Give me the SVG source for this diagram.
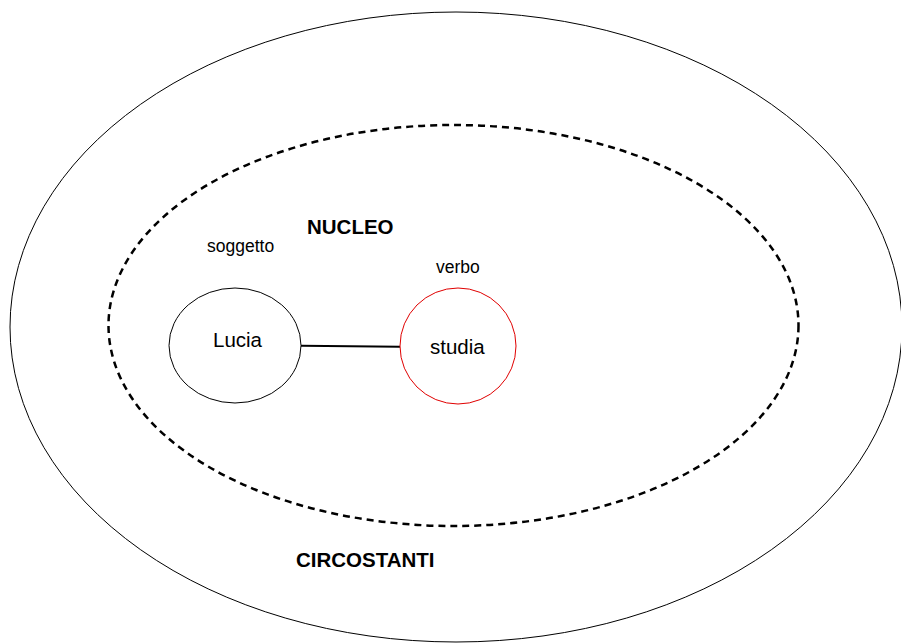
<svg xmlns="http://www.w3.org/2000/svg" width="901" height="643" viewBox="0 0 901 643">
<style>
text{font-family:"Liberation Sans",Arial,sans-serif;fill:#000}
.b{font-weight:bold;font-size:20.5px}
.s{font-size:17.5px}
.n{font-size:20.5px}
.thin{fill:none;stroke:#000;stroke-width:1}
</style>
<rect width="901" height="643" fill="#fff"/>
<g id="circostanti">
<ellipse class="thin" cx="456" cy="327" rx="446" ry="315"/>
<text class="b" x="296" y="567">CIRCOSTANTI</text>
</g>
<g id="nucleo">
<ellipse cx="453.5" cy="325.5" rx="345" ry="200.5" fill="none" stroke="#000" stroke-width="2.5" stroke-dasharray="7,5"/>
<text class="b" x="307" y="234">NUCLEO</text>
</g>
<g id="connectors">
<line x1="301" y1="345.7" x2="400" y2="346.7" stroke="#000" stroke-width="2"/>
</g>
<g id="lucia">
<ellipse class="thin" cx="235" cy="345.5" rx="66" ry="57.5"/>
<text class="s" x="207" y="252">soggetto</text>
<text class="n" x="213" y="347">Lucia</text>
</g>
<g id="studia">
<circle cx="458" cy="346" r="58" fill="none" stroke="#e00000" stroke-width="1"/>
<text class="s" x="436" y="273">verbo</text>
<text class="n" x="430" y="354">studia</text>
</g>
</svg>
